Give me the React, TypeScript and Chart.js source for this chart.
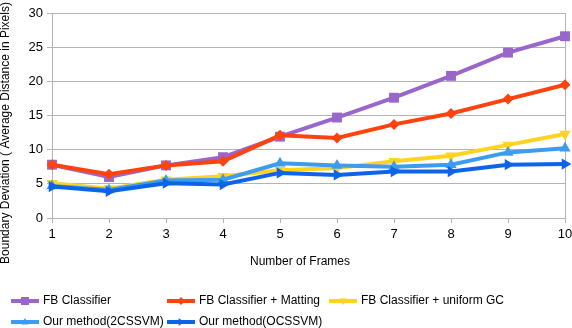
import React, { useEffect, useRef } from "react";
import { Chart, registerables } from "chart.js";

Chart.register(...registerables);

const frames = ["1", "2", "3", "4", "5", "6", "7", "8", "9", "10"];
const fbClassifier = [7.8, 6.0, 7.7, 8.9, 11.9, 14.7, 17.6, 20.8, 24.2, 26.6];
const fbMatting = [7.8, 6.4, 7.7, 8.3, 12.1, 11.7, 13.7, 15.3, 17.4, 19.5];
const fbUniformGC = [5.1, 4.3, 5.6, 6.1, 7.0, 7.3, 8.3, 9.1, 10.7, 12.3];
const ours2CSSVM = [4.7, 4.1, 5.5, 5.6, 8.0, 7.7, 7.5, 7.8, 9.6, 10.2];
const oursOCSSVM = [4.6, 3.9, 5.1, 4.9, 6.6, 6.3, 6.8, 6.8, 7.8, 7.9];
const seriesNames = [
  "FB Classifier",
  "FB Classifier + Matting",
  "FB Classifier + uniform GC",
  "Our method(2CSSVM)",
  "Our method(OCSSVM)",
];
const yTicks = [0, 5, 10, 15, 20, 25, 30];
const xTitle = "Number of Frames";
const yTitle = "Boundary Deviation ( Average Distance in Pixels)";

const FONT = "'Liberation Sans', Arial, sans-serif";
const GRID = "#b3b3b3";

const styles = [
  { color: "#9966cc", point: "rect", radius: 7, rotation: 0 },
  { color: "#ff420e", point: "rectRot", radius: 5.5, rotation: 0 },
  { color: "#ffd320", point: "triangle", radius: 6.5, rotation: 180 },
  { color: "#3d9bf0", point: "triangle", radius: 6.5, rotation: 0 },
  { color: "#0e64e8", point: "triangle", radius: 6.5, rotation: 90 },
];

const legendPos = [
  { x: 11, y: 301 },
  { x: 167, y: 301 },
  { x: 329, y: 301 },
  { x: 11, y: 322 },
  { x: 167, y: 322 },
];

function drawMarker(ctx: CanvasRenderingContext2D, s: any, x: number, y: number, r: number) {
  ctx.save();
  ctx.fillStyle = s.color;
  ctx.translate(x, y);
  ctx.rotate((s.rotation * Math.PI) / 180);
  ctx.beginPath();
  if (s.point === "rect") {
    ctx.rect(-r, -r, 2 * r, 2 * r);
  } else if (s.point === "rectRot") {
    ctx.moveTo(0, -r);
    ctx.lineTo(r, 0);
    ctx.lineTo(0, r);
    ctx.lineTo(-r, 0);
    ctx.closePath();
  } else {
    ctx.moveTo(0, -r);
    ctx.lineTo(r * 0.95, r * 0.6);
    ctx.lineTo(-r * 0.95, r * 0.6);
    ctx.closePath();
  }
  ctx.fill();
  ctx.restore();
}

const customPlugin = {
  id: "customDeco",
  afterDraw(chart: any) {
    const ctx = chart.ctx;
    ctx.save();
    ctx.fillStyle = "#000";
    ctx.font = `12px ${FONT}`;
    ctx.textAlign = "center";
    ctx.textBaseline = "middle";
    ctx.fillText(xTitle, 300, 262);
    ctx.save();
    ctx.translate(6, 133);
    ctx.rotate(-Math.PI / 2);
    ctx.fillText(yTitle, 0, 0);
    ctx.restore();
    ctx.textAlign = "left";
    chart.data.datasets.forEach((ds: any, i: number) => {
      const p = legendPos[i];
      const s = styles[i];
      ctx.strokeStyle = s.color;
      ctx.lineWidth = 4;
      ctx.beginPath();
      ctx.moveTo(p.x, p.y);
      ctx.lineTo(p.x + 28, p.y);
      ctx.stroke();
      drawMarker(ctx, s, p.x + 14, p.y, 4);
      ctx.fillStyle = "#000";
      ctx.fillText(ds.label, p.x + 32, p.y);
    });
    ctx.restore();
  },
};

export default function App() {
  const ref = useRef<HTMLCanvasElement>(null);
  useEffect(() => {
    document.body.style.margin = "0";
    const values = [fbClassifier, fbMatting, fbUniformGC, ours2CSSVM, oursOCSSVM];
    const chart = new Chart(ref.current as HTMLCanvasElement, {
      type: "line",
      data: {
        labels: frames,
        datasets: values.map((v, i) => ({
          label: seriesNames[i],
          data: v,
          borderColor: styles[i].color,
          backgroundColor: styles[i].color,
          borderWidth: 4,
          pointStyle: styles[i].point as any,
          pointRadius: styles[i].radius,
          pointRotation: styles[i].rotation,
          pointBorderWidth: 0,
          tension: 0,
          order: 10 - i,
        })),
      },
      options: {
        animation: false,
        responsive: false,
        devicePixelRatio: 1,
        layout: { padding: { top: 13, right: 7, bottom: 56, left: 0 } },
        plugins: { legend: { display: false }, tooltip: { enabled: false } },
        scales: {
          x: {
            offset: false,
            grid: {
              color: (c: any) => (c.index === frames.length - 1 ? GRID : "rgba(0,0,0,0)"),
              tickColor: GRID,
              tickLength: 5,
              drawOnChartArea: true,
            },
            border: { color: GRID },
            ticks: {
              color: "#000",
              font: { family: FONT, size: 13 },
              maxRotation: 0,
              padding: 4,
            },
            afterFit: (s: any) => {
              s.height = 54;
              s.paddingRight = 0;
              s.paddingLeft = 0;
            },
          },
          y: {
            min: 0,
            max: 30,
            afterBuildTicks: (s: any) => {
              s.ticks = yTicks.map((v) => ({ value: v }));
            },
            grid: { color: GRID, tickColor: GRID, tickLength: 5 },
            border: { color: GRID },
            ticks: {
              color: "#000",
              font: { family: FONT, size: 13 },
              padding: 4,
            },
            afterFit: (s: any) => {
              s.width = 52;
              s.paddingTop = 0;
              s.paddingBottom = 0;
            },
          },
        },
      },
      plugins: [customPlugin],
    });
    return () => chart.destroy();
  }, []);
  return (
    <div style={{ width: 572, height: 328 }}>
      <canvas ref={ref} width={572} height={328} style={{ display: "block", width: 572, height: 328 }} />
    </div>
  );
}
